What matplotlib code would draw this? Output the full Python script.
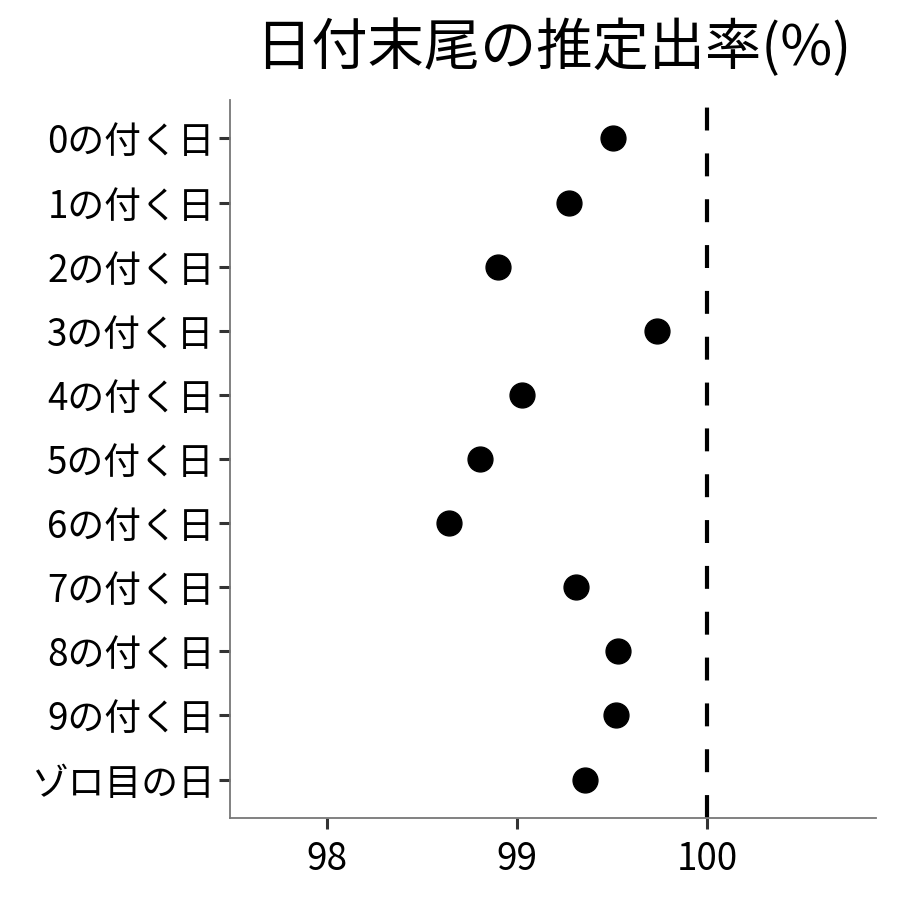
import matplotlib
matplotlib.use("Agg")
import matplotlib.pyplot as plt

plt.rcParams['font.family'] = ['Noto Sans CJK JP', 'DejaVu Sans']

labels = ['0の付く日', '1の付く日', '2の付く日', '3の付く日', '4の付く日',
          '5の付く日', '6の付く日', '7の付く日', '8の付く日', '9の付く日',
          'ゾロ目の日']
rates = [99.505, 99.274, 98.90, 99.737, 99.026,
         98.805, 98.642, 99.311, 99.532, 99.521, 99.358]
xticks = [98, 99, 100]

fig = plt.figure(figsize=(9, 9), dpi=100)
ax = fig.add_axes([230/900, 1 - 818/900, (876-230)/900, (818-100)/900])

ypos = list(range(len(labels)))[::-1]
ax.scatter(rates, ypos, s=320, color='black', zorder=3)
ax.axvline(100, color='black', lw=3, linestyle=(0, (5.5, 5.5)))

ax.set_xlim(97.49, 100.89)
ax.set_ylim(-0.6, len(labels) - 0.4)
ax.set_xticks(xticks)
ax.set_xticklabels([str(v) for v in xticks])
ax.set_yticks(ypos)
ax.set_yticklabels(labels)

for s in ['top', 'right']:
    ax.spines[s].set_visible(False)
for s in ['left', 'bottom']:
    ax.spines[s].set_color('#777777')
    ax.spines[s].set_linewidth(1.3)
ax.tick_params(axis='both', length=8, width=2.2, color='#333333',
               labelsize=26.5, labelcolor='black', pad=3)
ax.tick_params(axis='x', pad=8)

fig.text(0.615, 0.946, '日付末尾の推定出率(%)', fontsize=40.5, ha='center', va='center')

fig.savefig('out.png', dpi=100)
